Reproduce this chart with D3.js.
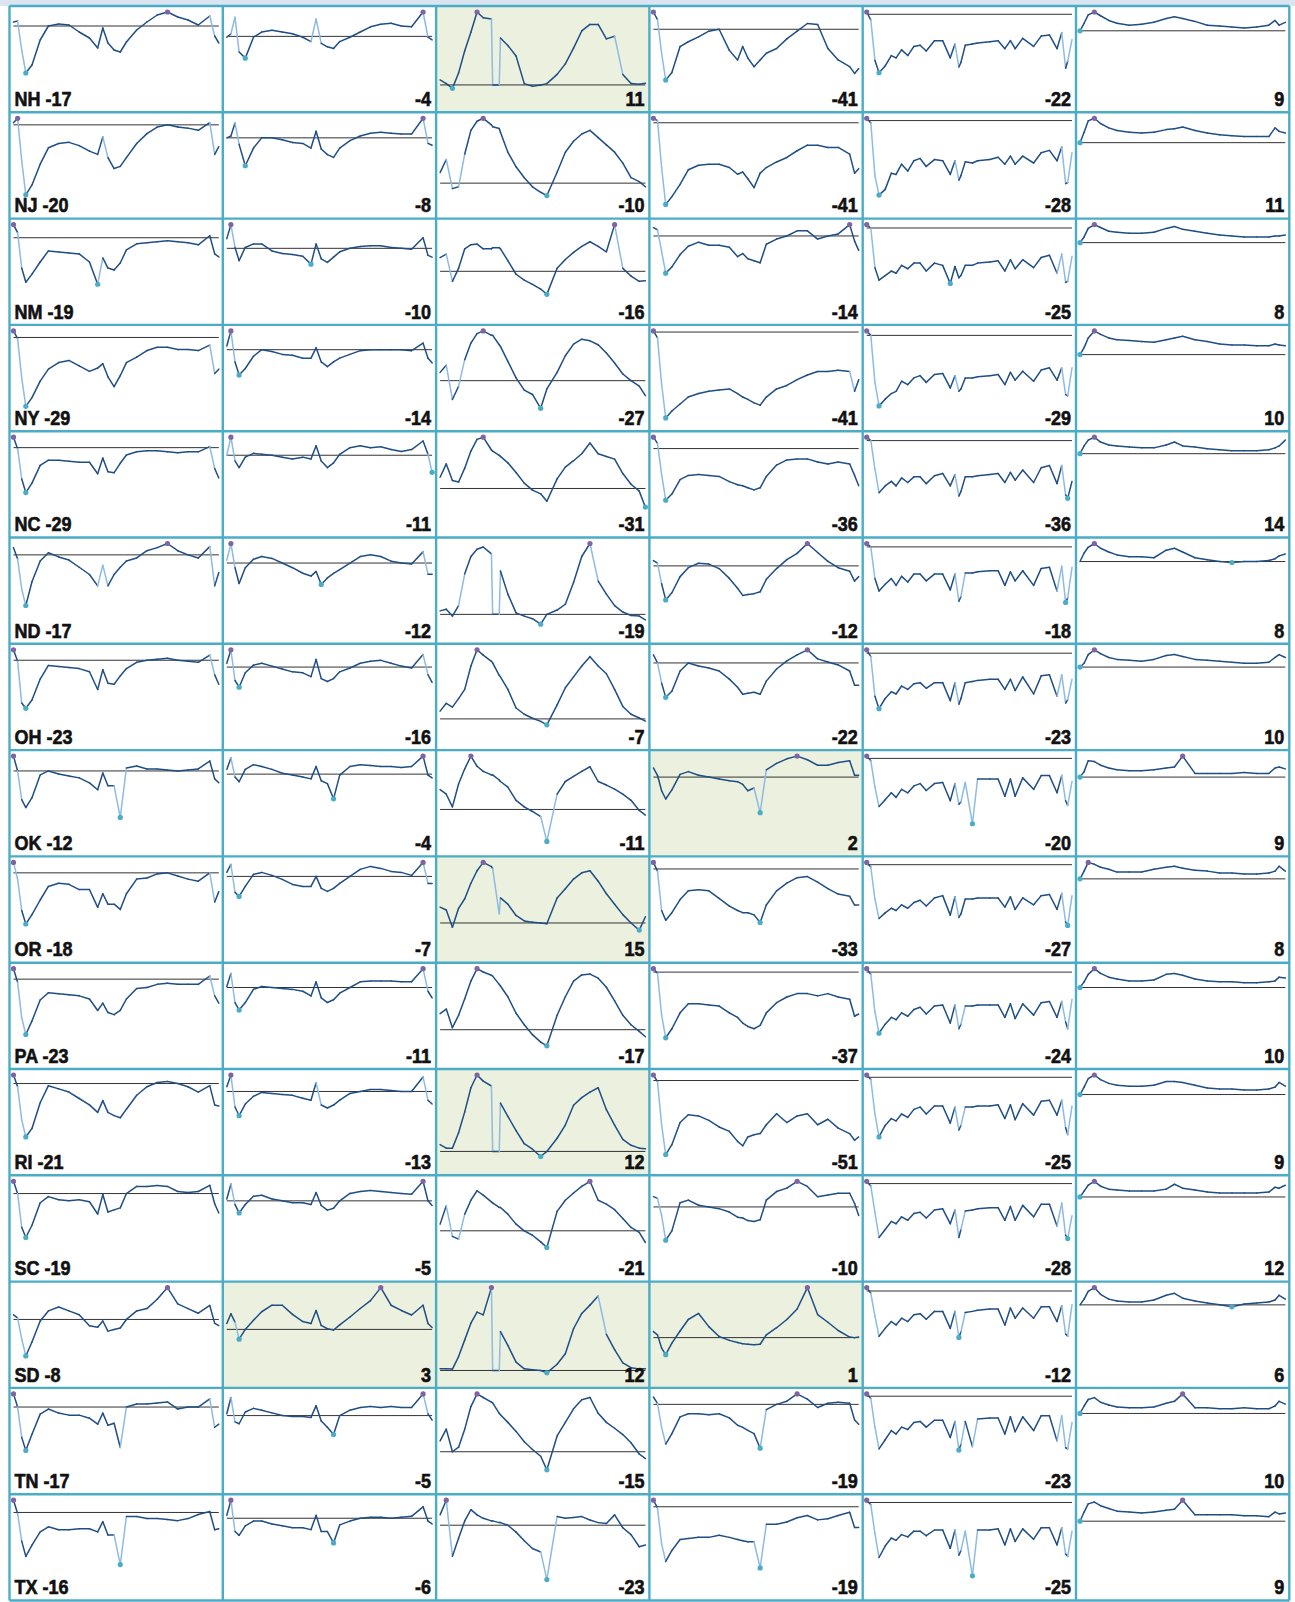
<!DOCTYPE html>
<html>
<head>
<meta charset="utf-8">
<script src="https://cdn.jsdelivr.net/npm/d3@7"></script>
<style>
  body { margin: 0; background: #fff; }
  svg { display: block; }
</style>
</head>
<body>
<svg id="chart"></svg>
<script>
// Mobility change vs baseline (%), one row per state, weeks counted from mid Feb 2020.
const states = ['NH', 'NJ', 'NM', 'NY', 'NC', 'ND', 'OH', 'OK', 'OR', 'PA', 'RI', 'SC', 'SD', 'TN', 'TX'];

// Sample weeks for each column.
const weeksA = [0, 2, 4, 6, 9, 13, 17, 22, 27, 32, 37, 41, 43.5, 46, 49, 52, 55, 60, 65, 70, 75, 80, 85, 90, 95.6, 98, 100];
const weeksP = [0, 3, 6, 9, 12, 15, 18, 21, 25, 25.6, 28.8, 29.4, 33, 37, 41, 45, 49, 52, 57, 61, 65, 69, 73, 77, 81, 85, 89, 93, 97, 100];
const weeksW = [0, 2, 4, 6, 9, 12, 14.3, 17, 20, 23, 26, 29, 33, 37, 40.7, 43, 44.9, 45.9, 48, 51.5, 54, 60, 64, 67.3, 70, 72.3, 76, 81.3, 85, 89, 92.7, 95, 96.9, 97.9, 100];
const weeksR = [0, 2, 4, 7, 10, 14, 18, 24, 30, 36, 42, 46, 50, 56, 62, 68, 74, 80, 86, 92, 95, 97, 100];

// Latest values shown in each cell.
const retailLabel = [-17, -20, -19, -29, -29, -17, -23, -12, -18, -23, -21, -19, -8, -17, -16];
const groceryLabel = [-4, -8, -10, -14, -11, -12, -16, -4, -7, -11, -13, -5, 3, -5, -6];
const parksLabel = [11, -10, -16, -27, -31, -19, -7, -11, 15, -17, 12, -21, 12, -15, -23];
const transitLabel = [-41, -41, -14, -41, -36, -12, -22, 2, -33, -37, -51, -10, 1, -19, -19];
const workLabel = [-22, -28, -25, -29, -36, -18, -23, -20, -27, -24, -25, -28, -12, -23, -25];
const homeLabel = [9, 11, 8, 10, 14, 8, 10, 9, 8, 10, 9, 12, 6, 10, 9];

const retail = [
  [4, 5, -24, -47, -39, -14, 0, 2, 1, -6, -12, -22, -2, -17, -24, -26, -16, -4, 4, 11, 14, 9, 6, 1, 10, -10, -17],
  [2, 6, -33, -64, -55, -36, -21, -17, -16, -19, -24, -27, -11, -30, -40, -38, -30, -17, -8, -2, 0, -2, -3, -5, 2, -27, -20],
  [13, 5, -30, -44, -36, -24, -13, -14, -15, -16, -24, -46, -20, -30, -32, -25, -12, -6, -5, -4, -3, -4, -5, -7, 2, -16, -19],
  [6, -1, -37, -63, -55, -40, -29, -23, -21, -26, -31, -28, -24, -36, -45, -35, -23, -18, -12, -9, -9, -11, -11, -12, -7, -33, -29],
  [10, -1, -30, -43, -34, -17, -12, -12, -13, -14, -14, -25, -10, -23, -24, -15, -7, -4, -3, -3, -4, -5, -4, -4, 1, -20, -29],
  [7, -4, -33, -49, -26, -6, 2, -2, -5, -12, -19, -30, -10, -30, -19, -12, -6, -3, 4, 7, 11, 4, 0, -3, 8, -30, -17],
  [10, -1, -41, -46, -38, -18, -5, -6, -7, -8, -11, -28, -9, -22, -23, -15, -8, -2, 0, 1, 2, 0, -1, -2, 5, -14, -23],
  [15, 0, -29, -37, -27, -4, 0, -3, -5, -7, -12, -19, -2, -15, -15, -47, 3, 5, 2, 2, 1, 0, 1, 2, 10, -8, -12],
  [10, -6, -36, -49, -40, -26, -13, -10, -11, -16, -16, -33, -20, -30, -30, -35, -20, -6, -5, -1, 0, -3, -6, -8, 0, -28, -18],
  [10, -3, -37, -53, -40, -20, -13, -14, -15, -16, -19, -30, -23, -32, -34, -30, -19, -9, -8, -5, -4, -5, -5, -5, 3, -16, -23],
  [8, -3, -34, -50, -42, -18, -2, -5, -8, -14, -20, -27, -16, -27, -30, -32, -24, -11, -3, 1, 2, 0, -3, -8, -2, -20, -21],
  [12, 0, -33, -43, -31, -9, -3, -6, -7, -6, -8, -20, -1, -18, -16, -14, 0, 7, 7, 8, 7, 2, 1, 2, 8, -10, -19],
  [6, 2, -25, -47, -29, -2, 11, 16, 11, 6, -8, -10, -2, -15, -13, -11, 0, 11, 14, 26, 41, 20, 14, 8, 18, -5, -8],
  [13, 0, -30, -43, -27, -7, -2, -6, -8, -8, -11, -17, -6, -18, -16, -40, 0, 3, 3, 4, 5, -2, 0, 0, 8, -20, -17],
  [12, -1, -28, -43, -32, -19, -14, -17, -17, -16, -16, -19, -9, -22, -22, -51, -4, -4, -6, -6, -7, -8, -6, -2, 1, -17, -16]
];

const grocery = [
  [-1, 3, 22, -18, -25, -1, 5, 7, 5, 3, -1, -6, 20, -8, -12, -14, -6, -1, 5, 11, 14, 15, 12, 11, 28, -1, -4],
  [0, 2, 16, -7, -30, -11, 0, 0, -2, -5, -6, -11, 7, -12, -18, -21, -11, -3, 2, 5, 6, 5, 4, 4, 21, -6, -8],
  [11, 27, 1, -14, 1, 5, 5, -3, -6, -7, -9, -18, 5, -12, -16, -10, -4, 0, 2, 3, 3, 1, 0, -1, 12, -8, -10],
  [4, 20, -13, -27, -20, -7, 0, -2, -5, -6, -9, -9, 2, -13, -18, -13, -9, -5, -1, 0, 0, 0, 0, -1, 7, -9, -14],
  [0, 19, -6, -13, -2, 2, 1, 0, -2, -4, -2, -4, 10, -6, -13, -8, 1, 8, 10, 8, 9, 6, 4, 6, 15, 1, -18],
  [3, 21, -5, -22, -5, 4, 7, 5, 0, -5, -11, -14, -9, -23, -16, -11, -7, 0, 7, 9, 7, 2, 0, -1, 12, -12, -12],
  [4, 18, -14, -21, -6, 2, 4, 1, -2, -5, -6, -10, 8, -12, -15, -12, -5, -1, 4, 6, 7, 4, 1, -1, 13, -8, -16],
  [5, 17, -3, -8, 5, 10, 8, 5, 1, -1, -3, -5, 8, -7, -10, -26, -1, 8, 10, 9, 8, 8, 7, 8, 19, -1, -4],
  [4, 12, -16, -20, -10, 2, 4, 1, -3, -8, -10, -10, 0, -12, -15, -12, -7, 0, 7, 10, 8, 5, 4, 1, 14, -7, -7],
  [1, 15, -16, -24, -16, -2, 1, 0, -1, -2, -4, -9, 6, -11, -16, -13, -6, 0, 6, 7, 7, 7, 6, 6, 20, -4, -11],
  [5, 17, -16, -25, -13, -5, -1, -2, -3, -4, -7, -9, 9, -14, -17, -14, -9, -2, 0, 2, 2, 1, 0, 0, 15, -9, -13],
  [2, 18, -4, -13, -4, 5, 6, 2, 0, -2, -2, -4, 9, -5, -10, -8, 0, 8, 10, 11, 10, 9, 8, 7, 21, 0, -5],
  [9, 24, 11, -15, 0, 14, 27, 37, 37, 23, 12, 9, 29, 6, 1, -1, 7, 19, 32, 44, 64, 37, 29, 22, 37, 9, 3],
  [2, 20, -7, -9, 4, 8, 6, 3, 0, -1, -1, -2, 11, -6, -13, -21, 0, 6, 9, 10, 9, 10, 9, 9, 24, 2, -5],
  [3, 19, -14, -18, -8, -3, -3, -6, -8, -10, -10, -12, 3, -14, -14, -26, -7, -3, 0, 1, 1, 0, 1, 2, 12, -3, -6]
];

const parks = [
  [19, 5, -13, 45, 130, 200, 277, 255, 250, 0, 0, 178, 150, 110, 5, -5, 0, 5, 40, 80, 140, 205, 230, 230, 175, 185, 40, 5, 3, 6],
  [29, 65, -15, -10, 80, 145, 170, 178, 160, 155, 150, 140, 85, 45, 15, -10, -25, -34, 30, 85, 115, 135, 145, 125, 105, 85, 55, 15, 4, -10],
  [23, 29, -17, 5, 38, 45, 46, 38, 38, 40, 40, 38, 18, -5, -15, -22, -30, -39, 5, 20, 32, 42, 50, 42, 33, 79, 5, -8, -17, -16],
  [15, 28, -34, -10, 38, 68, 85, 90, 82, 82, 65, 62, 35, 5, -17, -25, -50, -15, 15, 45, 66, 75, 72, 65, 50, 32, 12, 0, -10, -27],
  [21, 46, 15, 12, 38, 70, 92, 96, 72, 70, 62, 60, 48, 30, 10, -3, -10, -24, 18, 40, 52, 65, 85, 65, 60, 55, 28, 8, -5, -35],
  [12, 18, -6, 30, 140, 200, 225, 233, 209, 0, 0, 150, 70, 5, -6, -15, -34, 0, 15, 35, 110, 200, 245, 115, 70, 30, 8, -4, -6, -19],
  [25, 50, 38, 65, 95, 170, 222, 205, 185, 180, 140, 135, 95, 35, 15, 2, -8, -19, 45, 100, 135, 170, 200, 170, 145, 95, 40, 15, 3, -7],
  [39, 30, 5, 50, 80, 105, 85, 75, 68, 68, 58, 55, 44, 18, 5, -4, -14, -63, 30, 55, 65, 75, 84, 55, 48, 40, 30, 18, -2, -11],
  [38, 31, -10, 35, 58, 95, 125, 145, 135, 130, 22, 60, 45, 18, 5, 2, 0, -2, 60, 82, 105, 120, 125, 100, 70, 45, 20, 0, -17, 15],
  [39, 50, 5, 35, 75, 118, 148, 140, 132, 130, 110, 106, 80, 40, 12, -12, -30, -39, 35, 80, 118, 133, 135, 125, 103, 70, 35, 12, -4, -17],
  [31, 15, 15, 85, 180, 290, 348, 320, 298, 0, 0, 220, 160, 95, 35, 10, -23, 0, 60, 120, 210, 245, 270, 290, 190, 120, 55, 28, 15, 12],
  [12, 45, -10, -15, 30, 55, 72, 64, 52, 50, 42, 42, 30, 12, 0, -8, -20, -30, 35, 55, 68, 80, 89, 55, 48, 38, 22, 6, -3, -21],
  [12, 12, 10, 100, 220, 340, 420, 400, 596, 0, 0, 280, 180, 60, 12, 5, 0, -17, 45, 120, 300, 410, 470, 535, 260, 150, 55, 20, 10, 12],
  [24, 50, 0, 10, 50, 100, 128, 120, 110, 108, 85, 82, 65, 45, 22, 5, -10, -40, 35, 65, 95, 115, 120, 85, 65, 52, 38, 20, -5, -15],
  [12, 29, -36, -15, 5, 18, 12, 8, 5, 5, 3, 3, 0, -8, -18, -27, -31, -63, 10, 8, 9, 10, 6, 3, 2, 12, -3, -11, -25, -23]
];

const transit = [
  [18, 10, -25, -53, -45, -18, -13, -8, -2, 0, -22, -32, -18, -30, -39, -32, -25, -20, -10, -2, 6, 5, -20, -32, -39, -46, -41],
  [4, 2, -40, -73, -66, -55, -42, -38, -37, -37, -40, -46, -44, -50, -58, -45, -40, -35, -31, -25, -20, -20, -22, -22, -28, -45, -41],
  [8, 6, -15, -36, -30, -18, -10, -6, -9, -9, -11, -20, -17, -22, -24, -26, -8, -3, 0, 5, 5, -3, 0, 2, 11, -5, -14],
  [1, -5, -45, -74, -68, -62, -56, -53, -51, -50, -49, -53, -56, -58, -61, -63, -56, -49, -46, -41, -37, -34, -34, -33, -34, -51, -41],
  [11, 5, -25, -50, -44, -30, -26, -25, -26, -27, -32, -35, -36, -38, -40, -38, -27, -16, -11, -10, -10, -13, -15, -13, -15, -26, -36],
  [6, 3, -20, -38, -30, -12, -2, 3, 2, -3, -14, -25, -33, -32, -31, -29, -15, -3, 7, 14, 25, 15, 5, -2, -6, -17, -12],
  [8, 0, -20, -34, -28, -8, 0, -3, -5, -8, -16, -24, -31, -30, -29, -31, -18, -6, 2, 8, 13, 4, 1, -2, -8, -22, -22],
  [10, 2, -15, -24, -14, 3, 6, 2, 0, -2, -4, -5, -8, -15, -12, -39, 8, 15, 20, 23, 19, 13, 13, 16, 18, 2, 2],
  [6, -2, -38, -47, -40, -28, -20, -19, -20, -27, -34, -38, -40, -40, -42, -49, -33, -20, -13, -8, -7, -12, -18, -23, -25, -33, -33],
  [3, -1, -38, -58, -50, -36, -28, -28, -29, -30, -36, -40, -45, -48, -50, -47, -36, -27, -22, -19, -19, -21, -19, -22, -24, -39, -37],
  [5, -1, -40, -67, -58, -38, -31, -32, -36, -42, -46, -55, -59, -51, -49, -48, -40, -30, -38, -32, -30, -40, -35, -43, -48, -54, -51],
  [12, 10, -10, -39, -28, 5, 8, 2, 0, -2, -6, -12, -13, -16, -17, -15, 8, 18, 22, 30, 24, 12, 14, 16, 16, 4, -10],
  [11, 5, -19, -31, -10, 12, 33, 44, 20, 2, -5, -9, -11, -12, -13, -12, 5, 18, 33, 52, 91, 42, 28, 13, 1, 0, 1],
  [7, 1, -22, -38, -28, -12, -9, -9, -10, -9, -13, -20, -22, -25, -28, -42, -5, 0, 3, 10, 5, -3, 1, 2, 1, -15, -19],
  [6, -1, -34, -50, -40, -30, -29, -28, -28, -26, -28, -30, -31, -32, -32, -56, -16, -16, -14, -10, -8, -12, -11, -8, -5, -19, -19]
];

const workplaces = [
  [2, -5, -40, -51, -45, -36, -38, -31, -36, -28, -27, -32, -23, -23, -38, -26, -46, -42, -27, -26, -25, -24, -23, -30, -23, -30, -21, -28, -19, -18, -30, -16, -47, -41, -22],
  [2, -2, -48, -65, -60, -46, -47, -38, -44, -35, -33, -40, -34, -35, -47, -35, -52, -48, -36, -37, -35, -34, -32, -38, -31, -38, -31, -37, -28, -26, -35, -23, -55, -54, -28],
  [3, 0, -35, -46, -42, -38, -40, -33, -36, -31, -31, -38, -31, -33, -49, -34, -44, -42, -33, -33, -31, -30, -29, -38, -28, -36, -28, -35, -26, -24, -40, -23, -48, -47, -25],
  [4, 0, -42, -63, -57, -52, -50, -41, -44, -38, -36, -42, -35, -34, -47, -36, -50, -48, -38, -38, -37, -36, -35, -44, -33, -40, -32, -41, -31, -29, -40, -29, -53, -54, -29],
  [3, 0, -25, -46, -40, -36, -40, -33, -37, -32, -32, -38, -31, -29, -40, -30, -49, -45, -32, -32, -31, -30, -29, -37, -28, -35, -26, -37, -24, -22, -38, -22, -48, -51, -36],
  [3, 0, -28, -39, -33, -28, -34, -26, -31, -24, -24, -30, -24, -24, -38, -24, -48, -44, -23, -23, -22, -21, -21, -34, -22, -30, -21, -34, -19, -18, -39, -17, -49, -45, -18],
  [3, -3, -38, -49, -40, -34, -36, -29, -32, -27, -26, -31, -26, -26, -42, -26, -45, -40, -26, -25, -24, -23, -23, -32, -23, -33, -21, -36, -20, -19, -38, -19, -44, -41, -23],
  [2, -2, -25, -42, -36, -30, -34, -27, -30, -24, -22, -28, -22, -21, -37, -22, -40, -38, -21, -57, -18, -18, -18, -33, -18, -33, -17, -27, -15, -15, -30, -15, -37, -41, -20],
  [2, -2, -30, -47, -42, -38, -40, -35, -38, -33, -31, -36, -29, -27, -44, -28, -46, -43, -30, -30, -29, -29, -29, -37, -28, -39, -29, -35, -27, -26, -39, -25, -50, -53, -27],
  [3, -2, -35, -54, -46, -40, -42, -36, -39, -33, -31, -37, -30, -29, -45, -29, -50, -46, -30, -30, -29, -29, -29, -40, -28, -41, -28, -38, -27, -26, -40, -26, -44, -50, -24],
  [2, -2, -32, -52, -42, -36, -38, -32, -35, -28, -26, -32, -25, -25, -40, -26, -46, -42, -26, -26, -25, -25, -24, -36, -24, -37, -23, -33, -21, -20, -33, -20, -44, -50, -25],
  [2, -2, -25, -47, -40, -33, -35, -29, -32, -26, -25, -30, -23, -22, -35, -23, -47, -40, -24, -23, -22, -21, -21, -32, -20, -32, -19, -29, -18, -18, -37, -17, -45, -48, -28],
  [3, -2, -22, -40, -33, -27, -30, -24, -27, -21, -20, -25, -18, -18, -33, -18, -41, -36, -19, -18, -17, -16, -16, -30, -15, -24, -15, -24, -14, -14, -27, -13, -38, -40, -12],
  [2, -2, -27, -46, -38, -30, -33, -27, -29, -23, -22, -27, -21, -21, -36, -22, -47, -42, -22, -44, -20, -19, -19, -33, -18, -31, -18, -30, -17, -17, -39, -17, -45, -46, -23],
  [2, -2, -27, -48, -38, -31, -33, -28, -30, -25, -25, -29, -24, -24, -40, -24, -46, -42, -25, -64, -24, -24, -23, -37, -23, -34, -23, -32, -22, -22, -37, -22, -45, -47, -25]
];

const residential = [
  [0, 8, 17, 20, 16, 11, 8, 6, 7, 9, 13, 15, 13, 10, 6, 5, 4, 3, 4, 6, 11, 6, 9],
  [0, 12, 25, 28, 22, 17, 14, 12, 11, 12, 15, 16, 18, 14, 11, 9, 8, 7, 7, 7, 17, 13, 11],
  [0, 6, 15, 19, 16, 12, 11, 10, 10, 11, 15, 17, 14, 12, 10, 8, 7, 6, 6, 6, 7, 7, 8],
  [0, 8, 19, 27, 23, 19, 17, 16, 15, 14, 17, 19, 21, 17, 15, 12, 11, 11, 10, 10, 12, 11, 10],
  [0, 8, 14, 17, 12, 9, 8, 7, 6, 6, 9, 12, 8, 7, 5, 4, 3, 3, 3, 4, 6, 8, 14],
  [0, 9, 15, 19, 14, 10, 7, 5, 5, 4, 12, 14, 10, 4, 2, 0, -1, 0, 0, 1, 3, 6, 8],
  [0, 4, 13, 18, 14, 10, 8, 7, 6, 8, 12, 13, 11, 8, 7, 6, 5, 4, 4, 5, 10, 13, 10],
  [0, 6, 18, 17, 13, 10, 8, 7, 7, 8, 10, 11, 23, 4, 4, 4, 4, 5, 4, 4, 10, 11, 9],
  [0, 8, 17, 15, 12, 10, 7, 7, 7, 10, 12, 13, 11, 9, 8, 6, 6, 5, 5, 6, 8, 13, 8],
  [0, 6, 14, 20, 15, 11, 9, 7, 7, 8, 14, 15, 13, 9, 7, 6, 6, 5, 5, 6, 7, 11, 10],
  [0, 8, 17, 21, 16, 12, 10, 9, 9, 10, 14, 14, 13, 10, 7, 6, 6, 5, 5, 6, 8, 13, 9],
  [0, 6, 12, 16, 11, 8, 7, 6, 6, 6, 8, 13, 9, 7, 5, 4, 4, 4, 4, 5, 10, 9, 12],
  [0, 6, 14, 18, 11, 6, 4, 3, 3, 5, 10, 12, 7, 4, 2, 0, -2, 1, 2, 3, 5, 10, 6],
  [0, 8, 15, 17, 12, 9, 7, 6, 6, 7, 11, 13, 21, 6, 6, 5, 5, 6, 5, 5, 8, 13, 10],
  [0, 10, 19, 21, 17, 14, 11, 10, 9, 10, 12, 13, 23, 7, 7, 7, 7, 6, 6, 5, 10, 8, 9]
];

const columns = [
  { weeks: weeksA, rows: retail, labels: retailLabel },
  { weeks: weeksA, rows: grocery, labels: groceryLabel },
  { weeks: weeksP, rows: parks, labels: parksLabel },
  { weeks: weeksA, rows: transit, labels: transitLabel },
  { weeks: weeksW, rows: workplaces, labels: workLabel },
  { weeks: weeksR, rows: residential, labels: homeLabel }
];

// Layout.
const width = 1295;
const height = 1602;
const gridLeft = 9.5;
const gridTop = 6;
const cellW = 213.3;
const cellH = 106.3;
const yFloor = -80;

const svg = d3.select('#chart')
  .attr('width', width)
  .attr('height', height)
  .style('font-family', '"Liberation Sans", Arial, sans-serif');

// Header strip, cut off above the grid.
svg.append('rect')
  .attr('width', width)
  .attr('height', gridTop)
  .attr('fill', '#dbe5f1');

const x = d3.scaleLinear().domain([0, 100]).range([4, cellW - 4]);

columns.forEach((col, c) => {
  col.rows.forEach((values, r) => {
    const label = col.labels[r];
    const g = svg.append('g')
      .attr('transform', `translate(${gridLeft + c * cellW},${gridTop + r * cellH})`);

    // Cell background, green where the latest value is above baseline.
    g.append('rect')
      .attr('width', cellW)
      .attr('height', cellH)
      .attr('fill', c < 5 && label > 0 ? '#ebf1de' : '#fff');

    const y = d3.scaleLinear().domain([yFloor, d3.max(values)]).range([100, 6]);

    // Baseline.
    g.append('line')
      .attr('x1', x(0)).attr('x2', x(100))
      .attr('y1', y(0)).attr('y2', y(0))
      .attr('stroke', '#333')
      .attr('stroke-width', 1);

    // Sparkline, steep stretches drawn lighter.
    const pts = values.map((v, i) => [x(col.weeks[i]), y(v)]);
    g.selectAll('line.seg')
      .data(d3.pairs(pts))
      .join('line')
      .attr('class', 'seg')
      .attr('x1', d => d[0][0]).attr('y1', d => d[0][1])
      .attr('x2', d => d[1][0]).attr('y2', d => d[1][1])
      .attr('stroke', d => Math.abs(d[1][1] - d[0][1]) / Math.max(0.1, d[1][0] - d[0][0]) > 4 ? '#8dbbe3' : '#1f4e85')
      .attr('stroke-width', 1.5)
      .attr('stroke-linecap', 'round');

    // Max and min markers.
    const iMax = d3.maxIndex(values);
    const iMin = d3.minIndex(values);
    g.append('circle')
      .attr('cx', pts[iMax][0]).attr('cy', pts[iMax][1])
      .attr('r', 2.6).attr('fill', '#8064a2');
    g.append('circle')
      .attr('cx', pts[iMin][0]).attr('cy', pts[iMin][1])
      .attr('r', 2.6).attr('fill', '#4bacc6');

    // Value label, heavy and a little condensed.
    g.append('text')
      .attr('transform', `translate(${c === 0 ? 5 : cellW - 5},100) scale(0.9,1)`)
      .attr('text-anchor', c === 0 ? 'start' : 'end')
      .attr('font-size', 20)
      .attr('font-weight', 'bold')
      .attr('fill', '#111')
      .attr('stroke', '#111')
      .attr('stroke-width', 0.6)
      .text(c === 0 ? `${states[r]} ${label}` : `${label}`);
  });
});

// Cell borders.
const nRows = states.length;
const nCols = columns.length;
svg.append('g')
  .selectAll('line')
  .data(d3.range(nCols + 1))
  .join('line')
  .attr('x1', d => gridLeft + d * cellW).attr('x2', d => gridLeft + d * cellW)
  .attr('y1', gridTop).attr('y2', gridTop + nRows * cellH)
  .attr('stroke', '#4bacc6').attr('stroke-width', 2.4);
svg.append('g')
  .selectAll('line')
  .data(d3.range(nRows + 1))
  .join('line')
  .attr('x1', gridLeft).attr('x2', gridLeft + nCols * cellW)
  .attr('y1', d => gridTop + d * cellH).attr('y2', d => gridTop + d * cellH)
  .attr('stroke', '#4bacc6').attr('stroke-width', 2.4);
</script>
</body>
</html>
